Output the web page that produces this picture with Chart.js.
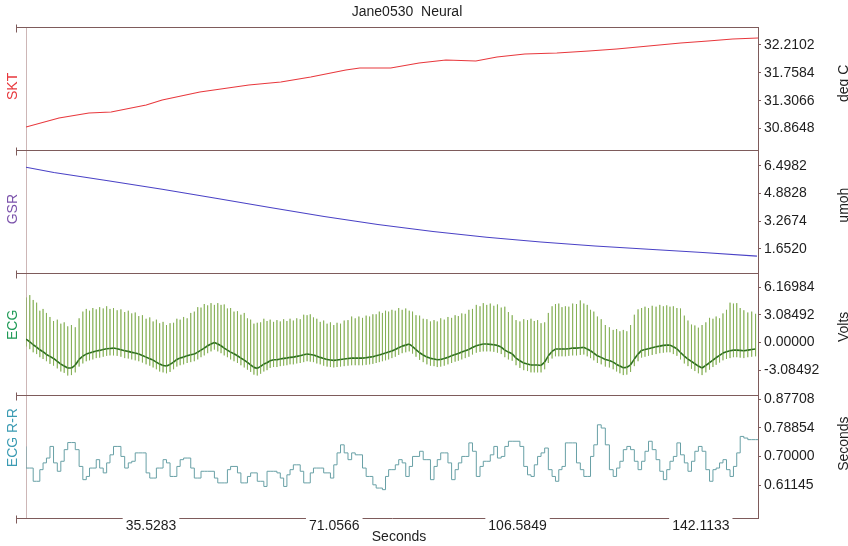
<!DOCTYPE html>
<html>
<head>
<meta charset="utf-8">
<script src="https://cdn.jsdelivr.net/npm/chart.js@4.4.1/dist/chart.umd.min.js"></script>
<style>
  html, body { margin: 0; padding: 0; background: #fff; }
  #chart { display: block; }
</style>
</head>
<body>
<canvas id="chart" width="848" height="546"></canvas>
<script>
// ---- data ----
const xTicks = [35.5283, 71.0566, 106.5849, 142.1133];
const sktTicks = [30.8648, 31.3066, 31.7584, 32.2102];
const gsrTicks = [1.6520, 3.2674, 4.8828, 6.4982];
const ecgTicks = [-3.08492, 0, 3.08492, 6.16984];
const rrTicks = [0.61145, 0.70000, 0.78854, 0.87708];

const recordStart = 11.3; // seconds at the left edge of the plot

// skin temperature (deg C)
const sktTime = [11.3, 17.7, 23.5, 27.8, 34.6, 37.7, 45.0, 54.5, 60.7, 66.5, 73.3, 76.0, 82.0,
  87.5, 92.7, 98.5, 102.6, 108.0, 114.2, 120.4, 125.8, 132.0, 138.2, 143.5, 148.3, 153.2];
const sktValue = [30.887, 31.032, 31.113, 31.129, 31.242, 31.323, 31.452, 31.565, 31.613, 31.694,
  31.807, 31.839, 31.839, 31.920, 31.968, 31.952, 32.017, 32.065, 32.081, 32.113, 32.146, 32.194,
  32.243, 32.275, 32.307, 32.323];

// skin conductance (umoh)
const gsrTime = [11.3, 16.7, 27.2, 37.7, 48.1, 58.6, 69.1, 79.5, 90.2, 100.6, 111.1, 121.6, 132.0, 142.5, 153.0];
const gsrValue = [6.41, 6.10, 5.62, 5.12, 4.60, 4.06, 3.53, 3.07, 2.66, 2.32, 2.04, 1.81, 1.62, 1.43, 1.22];

// beat to beat interval (seconds), one value per heart beat
const rrValue = [
  0.731, 0.664, 0.664, 0.623, 0.623, 0.659, 0.680, 0.695, 0.731, 0.680,
  0.654, 0.685, 0.721, 0.743, 0.743, 0.721, 0.669, 0.628, 0.638, 0.664,
  0.664, 0.690, 0.664, 0.649, 0.680, 0.705, 0.731, 0.731, 0.700, 0.664,
  0.680, 0.685, 0.711, 0.711, 0.711, 0.649, 0.633, 0.633, 0.664, 0.664,
  0.690, 0.680, 0.638, 0.638, 0.669, 0.690, 0.695, 0.695, 0.664, 0.633,
  0.633, 0.654, 0.654, 0.654, 0.654, 0.633, 0.618, 0.618, 0.618, 0.659,
  0.669, 0.669, 0.649, 0.618, 0.618, 0.638, 0.649, 0.649, 0.623, 0.623,
  0.607,
  0.654, 0.654, 0.654, 0.649, 0.633, 0.607, 0.643, 0.659, 0.674, 0.674,
  0.654, 0.618, 0.618, 0.649, 0.664, 0.664, 0.664, 0.649, 0.649, 0.633,
  0.674, 0.711, 0.736, 0.711, 0.690, 0.711, 0.705, 0.705, 0.664, 0.638,
  0.638, 0.612, 0.602, 0.602, 0.597, 0.638, 0.659, 0.659, 0.674, 0.690,
  0.680, 0.638, 0.669, 0.700, 0.700, 0.716, 0.690, 0.690, 0.628, 0.669,
  0.690, 0.711, 0.711, 0.680, 0.628, 0.659, 0.680, 0.700, 0.700, 0.742,
  0.716, 0.638, 0.669, 0.685, 0.685, 0.705, 0.731, 0.695, 0.700, 0.731,
  0.747,
  0.747, 0.747, 0.731, 0.669, 0.643, 0.638, 0.674, 0.700, 0.711, 0.726,
  0.659, 0.638, 0.623, 0.659, 0.669, 0.742, 0.742, 0.742, 0.680, 0.659,
  0.638, 0.638, 0.700, 0.736, 0.798, 0.788, 0.736, 0.659, 0.638, 0.664,
  0.685, 0.721, 0.731, 0.721, 0.685, 0.659, 0.685, 0.716, 0.747, 0.721,
  0.690, 0.654, 0.628, 0.659, 0.685, 0.700, 0.742, 0.705, 0.680, 0.654,
  0.685, 0.716, 0.731, 0.716, 0.659, 0.623, 0.659, 0.664, 0.680, 0.690,
  0.659, 0.638, 0.669, 0.711, 0.762, 0.757, 0.752, 0.752
];

// ECG per beat (Volts): wandering baseline, R peak tip, S trough tip
const ecgBase = [
  0.37, 0.08, -0.26, -0.52, -0.82, -1.04, -1.34, -1.56, -1.79, -2.12,
  -2.42, -2.64, -2.86, -2.86, -2.53, -1.90, -1.53, -1.30, -1.19, -1.08,
  -0.96, -0.89, -0.78, -0.70, -0.67, -0.63, -0.70, -0.82, -0.93, -1.00,
  -1.11, -1.19, -1.30, -1.45, -1.64, -1.82, -1.97, -2.20, -2.42, -2.57,
  -2.64, -2.46, -2.20, -1.90, -1.75, -1.64, -1.49, -1.38, -1.30, -1.08,
  -0.86, -0.63, -0.37, -0.18, 0.00, -0.18, -0.37, -0.63, -0.86, -1.08,
  -1.27, -1.49, -1.75, -1.97, -2.24, -2.50, -2.79, -2.90, -2.68, -2.42,
  -2.27,
  -2.05, -1.93, -1.93, -1.86, -1.78, -1.75, -1.67, -1.64, -1.56, -1.49,
  -1.38, -1.30, -1.34, -1.41, -1.53, -1.67, -1.79, -1.90, -1.97, -2.01,
  -1.97, -1.90, -1.86, -1.79, -1.75, -1.75, -1.75, -1.75, -1.71, -1.64,
  -1.60, -1.49, -1.41, -1.30, -1.19, -1.08, -0.96, -0.78, -0.59, -0.41,
  -0.30, -0.18, -0.45, -0.80, -1.15, -1.40, -1.64, -1.78, -1.86, -1.93,
  -1.90, -1.79, -1.67, -1.49, -1.34, -1.23, -1.08, -0.93, -0.78, -0.56,
  -0.37, -0.26, -0.18, -0.18, -0.22, -0.26, -0.33, -0.52, -0.86, -1.08,
  -1.27,
  -1.75, -2.05, -2.31, -2.42, -2.53, -2.53, -2.53, -2.57, -2.20, -1.50,
  -1.00, -0.74, -0.74, -0.74, -0.74, -0.70, -0.63, -0.63, -0.59, -0.55,
  -0.74, -0.93, -1.19, -1.49, -1.67, -1.90, -2.01, -2.20, -2.46, -2.64,
  -2.83, -2.79, -2.50, -1.86, -1.30, -0.89, -0.78, -0.70, -0.59, -0.48,
  -0.41, -0.33, -0.30, -0.30, -0.48, -0.70, -1.12, -1.53, -1.86, -2.12,
  -2.38, -2.64, -2.86, -2.57, -2.27, -1.97, -1.71, -1.45, -1.19, -1.04,
  -0.93, -0.86, -0.86, -0.89, -0.93, -0.86, -0.78, -0.74
];
const ecgPeak = [
  5.03, 5.30, 4.75, 4.45, 3.55, 3.75, 3.30, 2.85, 2.40, 2.55,
  2.10, 2.25, 1.80, 1.95, 1.70, 2.70, 3.45, 3.75, 3.55, 3.85,
  3.70, 3.95, 3.80, 4.05, 3.75, 3.85, 3.60, 3.70, 3.40, 3.55,
  3.25, 3.35, 2.95, 3.05, 2.65, 2.80, 2.35, 2.55, 2.15, 2.30,
  1.95, 2.15, 2.20, 2.65, 2.55, 2.85, 2.70, 3.30, 3.45, 3.95,
  3.90, 4.30, 4.15, 4.40, 4.20, 4.40, 4.20, 4.25, 3.80, 3.85,
  3.45, 3.50, 3.10, 3.30, 2.70, 2.55, 2.10, 2.20, 2.25, 2.65,
  2.40,
  2.55, 2.30, 2.50, 2.35, 2.60, 2.40, 2.65, 2.45, 2.70, 2.60,
  3.10, 3.05, 3.15, 2.80, 2.65, 2.30, 2.45, 2.10, 2.25, 1.95,
  2.20, 2.10, 2.45, 2.50, 2.90, 2.70, 2.90, 2.75, 3.00, 2.90,
  3.15, 3.15, 3.45, 3.30, 3.55, 3.45, 3.65, 3.55, 3.85, 3.65,
  3.80, 3.55, 3.45, 3.05, 3.00, 2.65, 2.60, 2.35, 2.50, 2.35,
  2.70, 2.55, 2.85, 2.75, 3.05, 2.95, 3.25, 3.20, 3.65, 3.75,
  4.20, 4.05, 4.40, 4.20, 4.35, 4.10, 4.25, 3.90, 4.00, 3.40,
  3.05,
  2.50, 2.35, 2.60, 2.50, 2.65, 2.40, 2.50, 2.15, 2.25, 3.30,
  4.05, 4.30, 4.35, 3.95, 4.05, 4.00, 4.35, 4.30, 4.70, 4.35,
  4.20, 3.65, 3.45, 2.90, 2.60, 1.95, 1.70, 1.40, 1.50, 1.25,
  1.40, 1.25, 1.95, 3.10, 3.70, 3.85, 4.00, 3.85, 4.10, 4.00,
  4.20, 4.05, 4.15, 4.00, 4.05, 3.85, 3.80, 3.00, 2.45, 2.00,
  1.90, 1.65, 1.95, 2.25, 2.75, 2.65, 2.90, 2.70, 3.25, 3.65,
  4.45, 4.35, 4.40, 3.85, 3.60, 3.35, 3.45, 3.20
];
const ecgLow = [
  -0.45, -0.75, -1.10, -1.30, -1.65, -1.85, -2.10, -2.40, -2.60, -2.90,
  -3.25, -3.40, -3.70, -3.65, -3.35, -2.70, -2.35, -2.10, -2.00, -1.90,
  -1.75, -1.70, -1.60, -1.50, -1.45, -1.45, -1.50, -1.60, -1.75, -1.80,
  -1.90, -2.00, -2.10, -2.25, -2.45, -2.60, -2.80, -3.00, -3.25, -3.35,
  -3.45, -3.30, -3.00, -2.70, -2.55, -2.45, -2.30, -2.20, -2.10, -1.90,
  -1.65, -1.45, -1.20, -1.00, -0.80, -1.00, -1.20, -1.45, -1.65, -1.90,
  -2.10, -2.30, -2.55, -2.80, -3.05, -3.30, -3.60, -3.70, -3.50, -3.25,
  -3.10,
  -2.85, -2.75, -2.75, -2.65, -2.60, -2.55, -2.45, -2.45, -2.35, -2.30,
  -2.20, -2.10, -2.15, -2.20, -2.35, -2.45, -2.60, -2.70, -2.75, -2.80,
  -2.75, -2.70, -2.65, -2.60, -2.55, -2.55, -2.55, -2.55, -2.50, -2.45,
  -2.40, -2.30, -2.20, -2.10, -2.00, -1.90, -1.75, -1.60, -1.40, -1.20,
  -1.10, -1.00, -1.25, -1.60, -1.95, -2.20, -2.45, -2.60, -2.65, -2.75,
  -2.70, -2.60, -2.45, -2.30, -2.15, -2.05, -1.90, -1.75, -1.60, -1.35,
  -1.15, -1.05, -1.00, -1.00, -1.00, -1.05, -1.15, -1.30, -1.65, -1.90,
  -2.05,
  -2.55, -2.85, -3.10, -3.20, -3.35, -3.35, -3.35, -3.35, -3.00, -2.30,
  -1.80, -1.55, -1.55, -1.55, -1.55, -1.50, -1.45, -1.45, -1.40, -1.35,
  -1.55, -1.75, -2.00, -2.30, -2.45, -2.70, -2.80, -3.00, -3.25, -3.45,
  -3.65, -3.60, -3.30, -2.65, -2.10, -1.70, -1.60, -1.50, -1.40, -1.30,
  -1.20, -1.15, -1.10, -1.10, -1.30, -1.50, -1.90, -2.35, -2.65, -2.95,
  -3.20, -3.45, -3.65, -3.35, -3.05, -2.75, -2.50, -2.25, -2.00, -1.85,
  -1.75, -1.65, -1.65, -1.70, -1.75, -1.65, -1.60, -1.55
];

// ---- look ----
const FONT = "'Liberation Sans', Arial, sans-serif";
const TEXT = '#1e1e1e';
const FRAME = '#7e5b5b';
const LEFT_EDGE = '#cdb6b6';

const panels = [
  { id: 'ySkt', name: 'SKT', unit: 'deg C', color: '#e8383d', min: 30.5199, max: 32.5006, ticks: sktTicks, digits: 4, nameShift: -2, unitShift: -5 },
  { id: 'yGsr', name: 'GSR', unit: 'umoh', color: '#7b52ab', min: 0.264, max: 7.428, ticks: gsrTicks, digits: 4, nameShift: -2, unitShift: -6 },
  { id: 'yEcg', name: 'ECG', unit: 'Volts', color: '#1e9a56', min: -5.906, max: 7.824, ticks: ecgTicks, digits: 5, nameShift: -9, unitShift: -7 },
  { id: 'yRr', name: 'ECG R-R', unit: 'Seconds', color: '#3b9bb3', min: 0.5092, max: 0.8896, ticks: rrTicks, digits: 5, nameShift: -19, unitShift: -13 }
];

// beat times follow from the R-R intervals
const beatTimes = [];
let clock = recordStart;
rrValue.forEach(rr => { beatTimes.push(clock); clock += rr; });

const ecgPoints = [];
beatTimes.forEach((t, i) => {
  ecgPoints.push({ x: t, y: ecgBase[i] }, { x: t, y: ecgPeak[i] }, { x: t, y: ecgLow[i] }, { x: t, y: ecgBase[i] });
});

const rrPoints = beatTimes.map((t, i) => ({ x: t, y: rrValue[i] }));
rrPoints.push({ x: clock, y: rrValue[rrValue.length - 1] });

const zip = (xs, ys) => xs.map((x, i) => ({ x, y: ys[i] }));

/**
 * Frame lines, panel names and unit titles
 */
const panelFrame = {
  id: 'panelFrame',
  beforeDatasetsDraw(chart) {
    const { ctx, chartArea } = chart;
    ctx.save();
    ctx.strokeStyle = LEFT_EDGE;
    ctx.lineWidth = 1;
    ctx.beginPath();
    ctx.moveTo(chartArea.left + 0.5, chartArea.top);
    ctx.lineTo(chartArea.left + 0.5, chartArea.bottom);
    ctx.stroke();
    ctx.restore();
  },
  afterDatasetsDraw(chart) {
    const { ctx, chartArea } = chart;
    const edges = [chartArea.top].concat(panels.map(p => chart.scales[p.id].bottom));
    ctx.save();
    ctx.strokeStyle = FRAME;
    ctx.lineWidth = 1;
    edges.forEach((y, i) => {
      const py = Math.round(y) + 0.5;
      const last = i === edges.length - 1;
      ctx.beginPath();
      ctx.moveTo(16, py);
      ctx.lineTo(last ? chartArea.left : chartArea.right, py);
      ctx.moveTo(16.5, py - 3);
      ctx.lineTo(16.5, py + 5);
      ctx.stroke();
    });
    ctx.restore();
  },
  afterDraw(chart) {
    const { ctx } = chart;
    ctx.save();
    ctx.font = `14px ${FONT}`;
    ctx.fillStyle = TEXT;
    ctx.textAlign = 'center';
    ctx.textBaseline = 'middle';
    ctx.fillText('Jane0530  Neural', 407, 12);
    ctx.fillText('Seconds', 399, 537);

    panels.forEach(p => {
      const s = chart.scales[p.id];
      const mid = (s.top + s.bottom) / 2;
      ctx.textBaseline = 'alphabetic';
      ctx.save();
      ctx.translate(17, mid + p.nameShift);
      ctx.rotate(-Math.PI / 2);
      ctx.fillStyle = p.color;
      ctx.fillText(p.name, 0, 0);
      ctx.restore();
      ctx.save();
      ctx.translate(848, mid + p.unitShift);
      ctx.rotate(-Math.PI / 2);
      ctx.fillStyle = TEXT;
      ctx.fillText(p.unit, 0, 0);
      ctx.restore();
    });
    ctx.restore();
  }
};

function yScale(p, weight) {
  return {
    type: 'linear',
    position: 'right',
    stack: 'panels',
    stackWeight: 1,
    weight: weight,
    min: p.min,
    max: p.max,
    afterBuildTicks: scale => { scale.ticks = p.ticks.map(value => ({ value })); },
    afterFit: scale => { scale.width = 90; },
    grid: { drawOnChartArea: false, tickLength: 3, color: FRAME },
    border: { display: true, color: FRAME, width: 1 },
    ticks: {
      autoSkip: false,
      padding: 3,
      color: TEXT,
      font: { family: FONT, size: 14 },
      callback: v => Number(v).toFixed(p.digits)
    }
  };
}

const scales = {
  x: {
    type: 'linear',
    position: 'bottom',
    min: recordStart,
    max: 153.2,
    afterBuildTicks: scale => { scale.ticks = xTicks.map(value => ({ value })); },
    afterFit: scale => { scale.height = 28; },
    grid: { display: false, drawTicks: false },
    border: { display: true, color: FRAME, width: 1 },
    ticks: {
      autoSkip: false,
      maxRotation: 0,
      padding: 0,
      color: TEXT,
      font: { family: FONT, size: 14 },
      showLabelBackdrop: true,
      backdropColor: '#ffffff',
      backdropPadding: { top: 2, bottom: 0, left: 3, right: 3 },
      callback: v => Number(v).toFixed(4)
    }
  }
};
panels.forEach((p, i) => { scales[p.id] = yScale(p, i + 1); });

const lineBase = { pointRadius: 0, tension: 0, fill: false, xAxisID: 'x' };

new Chart(document.getElementById('chart'), {
  type: 'line',
  data: {
    datasets: [
      Object.assign({}, lineBase, { label: 'SKT', yAxisID: 'ySkt', data: zip(sktTime, sktValue), borderColor: '#e8383d', borderWidth: 1.1 }),
      Object.assign({}, lineBase, { label: 'GSR', yAxisID: 'yGsr', data: zip(gsrTime, gsrValue), borderColor: '#4a42c6', borderWidth: 1.1 }),
      Object.assign({}, lineBase, {
        label: 'ECG', yAxisID: 'yEcg', data: ecgPoints, borderColor: '#2c6e1f', borderWidth: 1,
        segment: {
          borderColor: c => c.p0.parsed.x === c.p1.parsed.x ? 'rgba(122,168,70,0.8)' : '#2c6e1f',
          borderWidth: c => c.p0.parsed.x === c.p1.parsed.x ? 0.9 : 1.6
        }
      }),
      Object.assign({}, lineBase, { label: 'ECG R-R', yAxisID: 'yRr', data: rrPoints, stepped: 'after', borderColor: '#68a0a6', borderWidth: 1 })
    ]
  },
  options: {
    responsive: false,
    animation: false,
    events: [],
    parsing: { xAxisKey: 'x', yAxisKey: 'y' },
    layout: { padding: { left: 26, top: 27, right: 0, bottom: 0 } },
    plugins: {
      legend: { display: false },
      tooltip: { enabled: false },
      title: { display: false }
    },
    scales: scales
  },
  plugins: [panelFrame]
});
</script>
</body>
</html>
